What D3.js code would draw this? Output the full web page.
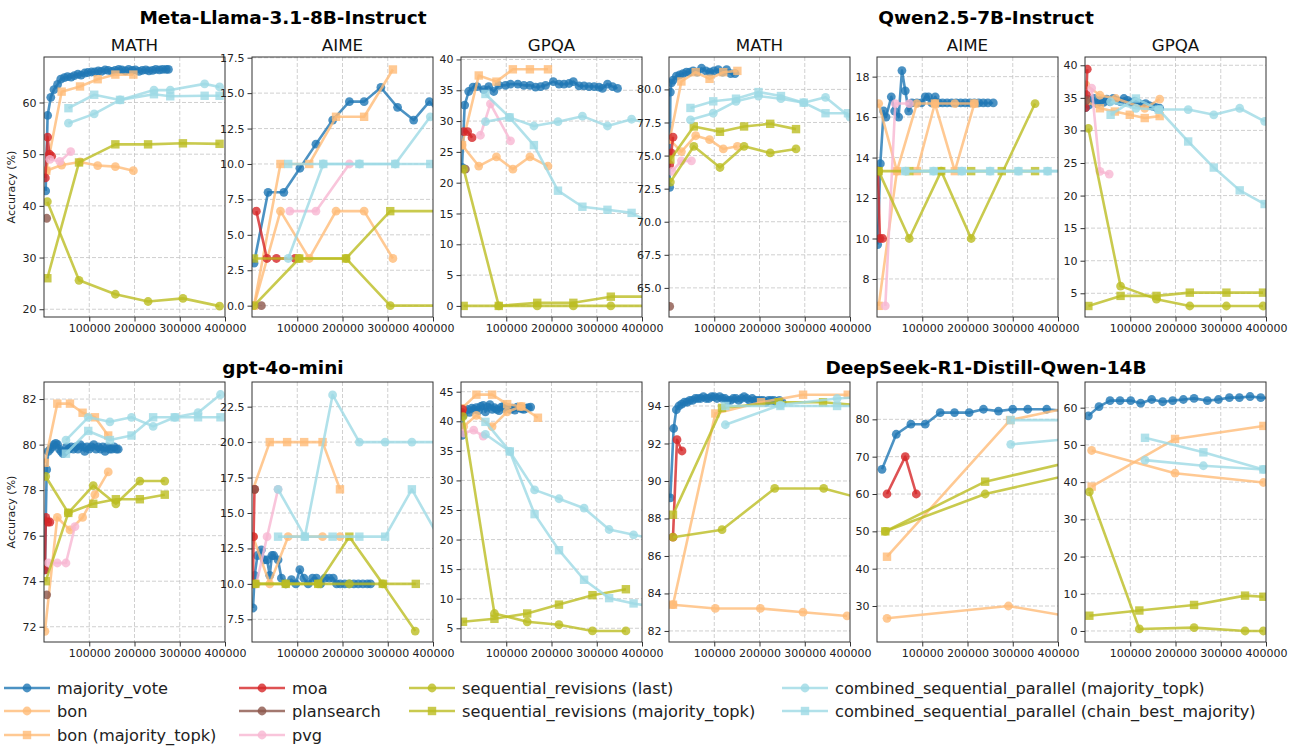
<!DOCTYPE html>
<html>
<head>
<meta charset="utf-8">
<script src="https://cdn.jsdelivr.net/npm/d3@7"></script>
<style>
  body { margin: 0; background: #fff; }
  text { font-family: "DejaVu Sans", sans-serif; }
</style>
</head>
<body>
<svg id="chart" width="1297" height="750"></svg>
<script>
// methods, in drawing order
const methodNames = ["majority_vote", "bon", "bon (majority_topk)", "moa", "plansearch", "pvg",
  "sequential_revisions (last)", "sequential_revisions (majority_topk)",
  "combined_sequential_parallel (majority_topk)", "combined_sequential_parallel (chain_best_majority)"]
const methodKeys = ["mv", "bon", "bonTop", "moa", "plan", "pvg", "seqLast", "seqTop", "combTop", "combChain"]
const methodColors = ["#1f77b4", "#ffbb78", "#ffbb78", "#d62728", "#8c564b", "#f7b6d2", "#bcbd22", "#bcbd22", "#9edae5", "#9edae5"]
const methodShapes = ["circle", "circle", "square", "circle", "circle", "circle", "circle", "square", "circle", "square"]

const xTicks = [100000, 200000, 300000, 400000]

// ---- data: [tokens, accuracy %] ----
const llamaMath = {
  mv: [[3700,42.9],[8000,57.5],[15000,61.0],[22000,62.5],[30000,63.5],[37000,64.5],[45000,64.8],[52000,65.0],[60000,64.9],[67000,65.2],[75000,65.5],[82000,65.3],[90000,65.7],[97000,65.8],[105000,65.9],[112000,65.9],[120000,66.1],[127000,66.0],[135000,66.3],[142000,66.2],[150000,66.0],[157000,66.2],[165000,66.4],[172000,66.3],[180000,66.1],[187000,66.4],[195000,66.2],[202000,66.3],[210000,66.0],[217000,66.2],[225000,66.3],[232000,66.1],[240000,66.2],[247000,66.4],[255000,66.3],[262000,66.4],[270000,66.4],[275000,66.4]],
  bon: [[5000,46.8],[39000,47.9],[79600,48.5],[118600,47.8],[157700,47.6],[197500,46.8]],
  bonTop: [[5000,46.8],[39000,62.1],[79600,63.1],[118600,64.5],[157700,65.4],[197500,65.4]],
  moa: [[3000,45.4],[8000,53.3],[12000,50.0],[17000,49.6]],
  plan: [[5900,37.6]],
  pvg: [[13000,49.0],[35000,48.6],[59000,50.5]],
  seqLast: [[7400,40.8],[77400,25.6],[157700,22.9],[230000,21.5],[307000,22.1],[388000,20.6]],
  seqTop: [[7400,26.0],[77400,48.4],[157700,51.9],[230000,51.9],[307000,52.1],[388000,52.0]],
  combTop: [[54000,56.0],[111000,57.8],[168000,60.5],[243000,62.4],[279000,62.4],[355000,63.6],[388000,63.0]],
  combChain: [[54000,58.9],[111000,61.5],[168000,60.5],[243000,61.6],[279000,61.2],[355000,61.3],[388000,61.3]]
}
const llamaAime = {
  mv: [[4400,3.0],[35500,8.0],[70300,8.0],[105800,9.7],[141300,11.4],[178300,13.1],[215200,14.4],[247800,14.4],[284800,15.4],[321700,14.0],[357200,13.1],[392000,14.4],[428000,13.1]],
  bon: [[4400,0],[62900,6.67],[126500,3.33],[185700,6.67],[247800,6.67],[311400,3.33]],
  bonTop: [[4400,0],[62900,10.0],[126500,10.0],[185700,13.33],[247800,13.33],[311400,16.67]],
  moa: [[9600,6.67],[33000,3.33],[54000,3.33],[95000,3.33]],
  plan: [[20700,0]],
  pvg: [[83600,6.67],[141300,6.67],[215200,10.0]],
  seqLast: [[4400,0],[104300,3.33],[207800,3.33],[305500,0],[420000,0]],
  seqTop: [[4400,3.33],[104300,3.33],[207800,3.33],[305500,6.67],[420000,6.67]],
  combTop: [[80000,3.33],[157500,10.0],[237400,10.0],[316600,10.0],[394000,13.33]],
  combChain: [[80000,10.0],[157500,10.0],[237400,10.0],[316600,10.0],[394000,10.0]]
}
const llamaGpqa = {
  mv: [[2200,22.5],[8100,32.6],[17000,34.8],[26600,35.5],[35500,35.6],[50300,35.1],[61300,35.6],[72400,34.8],[83500,35.8],[98300,35.8],[109400,36.0],[125600,36.0],[139000,35.8],[152300,35.8],[164800,35.5],[175900,35.6],[187000,35.8],[204000,36.4],[216600,36.0],[227600,36.0],[238700,36.1],[248300,36.4],[260900,35.7],[272000,35.7],[283100,35.6],[294200,35.6],[305200,35.5],[312600,35.3],[323700,36.0],[334800,35.6],[345900,35.3]],
  bon: [[2200,26.1],[39200,22.7],[78300,24.2],[114600,22.2],[152300,24.2],[192200,22.7]],
  bonTop: [[2200,26.1],[39200,37.4],[78300,36.4],[114600,38.4],[152300,38.4],[192200,38.4]],
  moa: [[5900,28.3],[14800,28.3],[24400,27.3]],
  plan: [[9600,22.2]],
  pvg: [[42900,27.7],[65000,32.8],[109400,26.8]],
  seqLast: [[5900,22.2],[83500,0],[168500,0],[248300,0],[331100,0],[430000,0]],
  seqTop: [[5900,0],[83500,0],[168500,0.5],[248300,0.5],[331100,1.5],[430000,1.5]],
  combTop: [[54000,29.9],[107200,30.6],[161100,29.2],[214300,29.9],[268300,30.8],[323700,29.2],[377000,30.3],[430000,29.4]],
  combChain: [[54000,34.4],[107200,30.6],[161100,26.1],[214300,18.7],[268300,16.1],[323700,15.6],[377000,15.1],[430000,13.0]]
}
const qwenMath = {
  mv: [[1500,72.6],[3000,79.8],[5200,80.5],[8900,80.7],[16300,81.0],[23700,81.1],[31100,81.2],[38500,81.3],[45900,81.3],[53300,81.4],[62200,81.3],[71900,81.6],[81500,81.4],[90400,81.3],[99300,81.4],[108900,81.5],[118500,81.3],[127400,81.5],[136300,81.2],[145900,81.2]],
  bon: [[1500,76.2],[27400,75.3],[59000,76.5],[89600,76.2],[120000,75.5],[151100,75.7]],
  bonTop: [[1500,76.2],[27400,80.6],[59000,81.3],[89600,80.8],[120000,81.3],[151100,81.4]],
  moa: [[1500,74.3],[5000,75.2],[9000,76.4]],
  plan: [[1500,63.6]],
  pvg: [[6700,73.8],[27400,74.6],[49600,74.6]],
  seqLast: [[3000,73.0],[54800,75.7],[112600,74.1],[165900,75.7],[223700,75.2],[280700,75.5]],
  seqTop: [[3000,74.7],[54800,77.2],[112600,76.8],[165900,77.2],[223700,77.4],[280700,77.0]],
  combTop: [[47400,77.7],[97800,78.2],[148100,79.1],[197800,79.5],[247400,79.3],[297800,79.0],[345900,79.4],[400000,77.9]],
  combChain: [[47400,78.6],[97800,79.1],[148100,79.3],[197800,79.8],[247400,79.5],[297800,79.0],[345900,78.2],[395500,78.2]]
}
const qwenAime = {
  mv: [[1500,9.7],[7400,13.7],[14700,16.3],[19900,16.0],[31600,17.0],[39000,16.3],[47800,16.0],[55100,18.3],[62500,17.3],[69900,16.3],[77200,16.7],[88200,16.7],[98000,16.7],[106600,17.0],[113900,17.0],[121000,16.7],[128700,17.0],[136000,16.7],[145000,16.7],[155000,16.7],[165000,16.7],[175000,16.7],[185000,16.7],[195000,16.7],[205000,16.7],[215000,16.7],[225000,16.7],[235000,16.7],[245000,16.7],[257000,16.7]],
  bon: [[3700,16.67],[44000,13.33],[88000,16.67],[128000,16.67],[172000,16.67],[215000,16.67]],
  bonTop: [[3700,6.67],[44000,13.33],[88000,13.33],[128000,16.67],[172000,13.33],[215000,16.67]],
  moa: [[2000,13.33],[6500,10.0],[12500,10.0]],
  plan: [[2000,13.33]],
  pvg: [[18400,6.67],[40400,16.67],[71300,16.67]],
  seqLast: [[3700,13.33],[71300,10.0],[141900,13.33],[208100,10.0],[349300,16.67]],
  seqTop: [[3700,13.33],[71300,13.33],[141900,13.33],[208100,13.33],[275700,13.33],[349300,13.33]],
  combTop: [[62500,13.33],[125000,13.33],[187500,13.33],[250000,13.33],[312500,13.33],[377000,13.33],[440000,13.33]],
  combChain: [[62500,13.33],[125000,13.33],[187500,13.33],[250000,13.33],[312500,13.33],[377000,13.33],[440000,13.33]]
}
const qwenGpqa = {
  mv: [[1500,33.5],[5000,34.8],[9000,33.9],[14000,34.4],[20000,34.9],[27000,34.1],[34000,34.6],[41000,34.3],[48000,34.8],[55000,34.4],[62000,34.9],[70000,34.6],[78000,34.4],[86000,34.9],[94000,34.6],[102000,34.3],[110000,34.5],[118000,34.2],[126000,34.0],[134000,34.1],[142000,33.8],[150000,33.7],[158000,33.5],[165000,33.4]],
  bon: [[2000,37.0],[33000,35.4],[68000,34.9],[132000,33.4],[165000,34.8]],
  bonTop: [[2000,34.5],[33000,33.4],[66000,32.9],[99000,32.4],[132000,31.9],[165000,32.2]],
  moa: [[1000,33.5],[3000,35.5],[5000,39.4]],
  plan: [[2500,34.6]],
  pvg: [[14700,36.5],[33000,23.7],[53500,23.3]],
  seqLast: [[7400,30.3],[78600,6.1],[158000,4.1],[231600,3.05],[312500,3.05],[393400,3.05]],
  seqTop: [[7400,3.05],[78600,4.6],[158000,4.6],[231600,5.1],[312500,5.1],[393400,5.1]],
  combTop: [[56600,34.4],[112500,33.4],[163000,33.2],[228000,33.2],[284600,32.4],[341900,33.4],[397000,31.4]],
  combChain: [[56600,32.4],[112500,34.9],[163000,33.2],[228000,28.3],[284600,24.3],[341900,20.8],[397000,18.7]]
}
const gptMath = {
  mv: [[2000,74.5],[5900,78.9],[9600,79.7],[14000,79.8],[18000,79.9],[22000,80.0],[26000,80.05],[30000,80.0],[34000,79.8],[38000,79.7],[42000,79.6],[46000,79.7],[50000,79.9],[55000,79.8],[60000,79.9],[65000,79.8],[70000,79.9],[75000,79.8],[80000,80.0],[85000,79.9],[90000,79.7],[95000,79.9],[100000,79.8],[105000,79.9],[110000,80.0],[115000,79.8],[120000,79.9],[125000,79.8],[130000,79.9],[135000,79.7],[140000,79.9],[145000,79.8],[150000,79.8],[155000,79.9],[160000,79.8],[164000,79.8]],
  bon: [[2000,71.8],[29400,76.8],[57400,76.25],[85300,76.8],[112500,77.8],[141900,78.8]],
  bonTop: [[2000,79.2],[29400,81.8],[57400,81.8],[85300,81.4],[112500,81.2],[141900,80.4]],
  moa: [[2000,74.5],[4000,76.8],[8500,76.6],[13000,76.6]],
  plan: [[5900,73.4]],
  pvg: [[9600,74.8],[29400,74.8],[48500,74.8],[68400,76.4]],
  seqLast: [[3700,78.6],[53700,77.0],[108800,78.2],[158800,77.4],[211800,78.4],[266900,78.4]],
  seqTop: [[3700,74.0],[53700,77.0],[108800,77.4],[158800,77.6],[211800,77.6],[266900,77.8]],
  combTop: [[48500,80.2],[97800,81.2],[145600,81.0],[193400,81.2],[241200,80.8],[289000,81.2],[340400,81.4],[390000,82.2]],
  combChain: [[48500,79.6],[97800,80.6],[145600,80.2],[193400,80.4],[241200,81.2],[289000,81.2],[340400,81.2],[390000,81.2]]
}
const gptAime = {
  mv: [[2200,8.3],[5900,10.6],[12000,12.0],[20700,12.4],[27000,11.7],[33300,11.7],[39200,10.6],[44000,12.0],[48000,12.0],[57600,11.7],[65000,10.4],[74600,10.0],[87200,10.3],[96800,10.0],[105700,11.0],[114600,10.4],[124200,10.0],[133800,10.4],[142600,10.4],[151500,10.0],[161100,10.4],[170700,10.4],[179600,10.4],[187000,10.0],[195000,10.0],[205000,10.0],[215000,10.0],[225000,10.0],[235000,10.0],[245000,10.0],[255000,10.0],[262000,10.0]],
  bon: [[2200,13.33],[39200,10.0],[79800,13.33],[155900,13.33],[194400,13.33]],
  bonTop: [[2200,16.67],[39200,20.0],[77600,20.0],[115300,20.0],[155900,20.0],[194400,16.67]],
  moa: [[2000,10.0],[3500,13.33],[5500,16.67]],
  plan: [[6000,16.67]],
  pvg: [[9600,10.0],[33300,13.33],[57600,16.67]],
  seqLast: [[7400,10.0],[74600,10.0],[146300,10.0],[215100,10.0],[289000,10.0],[360700,6.67]],
  seqTop: [[7400,10.0],[74600,10.0],[146300,10.0],[215100,13.33],[289000,10.0],[362000,10.0]],
  combTop: [[57600,16.67],[116800,13.33],[178100,23.33],[237200,20.0],[294200,20.0],[353300,20.0],[430000,20.0]],
  combChain: [[57600,13.33],[116800,13.33],[178100,13.33],[237200,13.33],[294200,13.33],[353300,16.67],[412000,13.33]]
}
const gptGpqa = {
  mv: [[2200,37.6],[5000,41.0],[9000,41.8],[14000,42.0],[19000,41.5],[24000,42.2],[29000,42.0],[34000,42.3],[39000,41.8],[44000,42.5],[49000,42.7],[54000,41.6],[59000,42.4],[64000,42.8],[69000,42.0],[74000,42.3],[79000,42.0],[84000,41.8],[89000,42.4],[94000,42.5],[99000,42.1],[104000,42.3],[109000,42.0],[114000,42.2],[119000,41.9],[124000,42.4],[129000,42.3],[134000,42.1],[139000,42.0],[144000,42.2],[149000,42.3],[154000,42.4]],
  bon: [[5900,39.1],[34000,41.0],[68700,39.1],[102000,41.6],[133000,42.5]],
  bonTop: [[2200,42.2],[34000,44.5],[68700,44.5],[102000,42.9],[133000,42.5],[170000,40.6]],
  moa: [[1500,41.5],[3500,42.0]],
  pvg: [[5900,38.0],[28100,38.5],[48800,37.5]],
  seqLast: [[4400,40.8],[73900,7.5],[146300,6.1],[216500,5.6],[290500,4.55],[364400,4.55]],
  seqTop: [[4400,6.1],[73900,6.6],[146300,7.5],[216500,9.0],[290500,10.6],[364400,11.6]],
  combTop: [[54000,37.8],[107900,34.9],[162600,28.4],[216600,26.9],[272000,25.3],[327400,21.7],[381400,20.8],[420000,20.2]],
  combChain: [[54000,39.9],[107900,34.9],[162600,24.3],[216600,18.2],[272000,13.2],[327400,10.1],[381400,9.2],[420000,8.7]]
}
const dsMath = {
  mv: [[2900,89.1],[10300,92.8],[16200,93.8],[22000,94.0],[28000,94.1],[34000,94.2],[40000,94.2],[46000,94.3],[52000,94.3],[58000,94.4],[64000,94.4],[70000,94.4],[76000,94.5],[82000,94.4],[88000,94.4],[94000,94.5],[100000,94.5],[106000,94.4],[112000,94.5],[118000,94.4],[124000,94.4],[130000,94.3],[136000,94.3],[142000,94.4],[148000,94.4],[154000,94.3],[160000,94.4],[166000,94.5],[172000,94.4],[178000,94.3],[184000,94.4],[190000,94.3],[196000,94.3],[202000,94.3],[208000,94.3],[214000,94.2],[220000,94.3],[226000,94.3],[232000,94.3],[238000,94.2],[244000,94.3],[250000,94.2]],
  bon: [[8800,83.4],[102400,83.2],[201900,83.2],[296300,83.0],[393500,82.8]],
  bonTop: [[8800,83.4],[102400,93.6],[203400,94.2],[296300,94.6],[395000,94.6]],
  moa: [[8800,87.0],[17700,92.2],[28700,91.6]],
  seqLast: [[8800,87.0],[117200,87.4],[233600,89.6],[341900,89.6],[450000,88.9]],
  seqTop: [[8800,88.2],[117200,93.9],[242400,94.2],[340400,94.2],[440000,94.0]],
  combTop: [[124500,93.0],[246100,94.05],[371400,94.4],[450000,94.5]],
  combChain: [[124500,94.0],[246100,94.0],[371400,94.0],[450000,94.0]]
}
const dsAime = {
  mv: [[11000,66.6],[42600,76.0],[75000,78.7],[106600,78.7],[139700,81.8],[171300,81.8],[203700,81.8],[235300,82.7],[268400,82.2],[300000,82.7],[333100,82.7],[375000,82.7],[420000,82.2]],
  bon: [[22100,26.7],[290400,30.0],[450000,26.7]],
  bonTop: [[22100,43.2],[294100,79.8],[420000,83.0]],
  moa: [[22100,60.0],[62500,70.0],[86800,60.0]],
  seqLast: [[18400,50.0],[239000,60.0],[450000,65.8]],
  seqTop: [[18400,50.0],[239000,63.3],[450000,69.2]],
  combTop: [[295600,73.3],[450000,75.0]],
  combChain: [[295600,79.8],[450000,79.8]]
}
const dsGpqa = {
  mv: [[7400,57.8],[31000,60.3],[55300,61.9],[77400,61.9],[101000,61.9],[123100,61.2],[147400,62.2],[171700,61.6],[193800,61.9],[217400,62.2],[241000,62.5],[270400,61.9],[294800,62.2],[319100,62.7],[341200,62.7],[364800,63.0],[388400,62.7],[420000,62.5]],
  bon: [[14700,48.5],[199000,42.4],[394300,39.9]],
  bonTop: [[14700,38.8],[199000,51.6],[394300,55.1]],
  seqLast: [[9600,37.4],[120100,0.55],[241000,0.9],[353700,0],[394300,0]],
  seqTop: [[9600,4.1],[120100,5.5],[241000,7.0],[353700,9.5],[394300,9.2]],
  combTop: [[132600,45.9],[261600,44.4],[394300,43.4]],
  combChain: [[132600,51.9],[261600,48.0],[394300,43.4]]
}

// y ticks per panel
const yTicksLlamaMath = [20, 30, 40, 50, 60]
const yTicksLlamaAime = [0, 2.5, 5, 7.5, 10, 12.5, 15, 17.5]
const yTicksLlamaGpqa = [0, 5, 10, 15, 20, 25, 30, 35, 40]
const yTicksQwenMath = [65, 67.5, 70, 72.5, 75, 77.5, 80]
const yTicksQwenAime = [8, 10, 12, 14, 16, 18]
const yTicksQwenGpqa = [5, 10, 15, 20, 25, 30, 35, 40]
const yTicksGptMath = [72, 74, 76, 78, 80, 82]
const yTicksGptAime = [7.5, 10, 12.5, 15, 17.5, 20, 22.5]
const yTicksGptGpqa = [5, 10, 15, 20, 25, 30, 35, 40, 45]
const yTicksDsMath = [82, 84, 86, 88, 90, 92, 94]
const yTicksDsAime = [30, 40, 50, 60, 70, 80]
const yTicksDsGpqa = [0, 10, 20, 30, 40, 50, 60]

const panels = [
  { data: llamaMath, title: "MATH", dom: [18.5, 68.8], ticks: yTicksLlamaMath, fmt: "d" },
  { data: llamaAime, title: "AIME", dom: [-0.8, 17.55], ticks: yTicksLlamaAime, fmt: ".1f" },
  { data: llamaGpqa, title: "GPQA", dom: [-1.8, 40.4], ticks: yTicksLlamaGpqa, fmt: "d" },
  { data: qwenMath, title: "MATH", dom: [62.8, 82.45], ticks: yTicksQwenMath, fmt: ".1f" },
  { data: qwenAime, title: "AIME", dom: [6.12, 18.97], ticks: yTicksQwenAime, fmt: "d" },
  { data: qwenGpqa, title: "GPQA", dom: [1.36, 41.27], ticks: yTicksQwenGpqa, fmt: "d" },
  { data: gptMath, title: "", dom: [71.33, 82.75], ticks: yTicksGptMath, fmt: "d" },
  { data: gptAime, title: "", dom: [5.9, 24.24], ticks: yTicksGptAime, fmt: ".1f" },
  { data: gptGpqa, title: "", dom: [2.68, 46.64], ticks: yTicksGptGpqa, fmt: "d" },
  { data: dsMath, title: "", dom: [81.41, 95.28], ticks: yTicksDsMath, fmt: "d" },
  { data: dsAime, title: "", dom: [20.36, 90.0], ticks: yTicksDsAime, fmt: "d" },
  { data: dsGpqa, title: "", dom: [-2.96, 66.9], ticks: yTicksDsGpqa, fmt: "d" }
]

const groupTitles = [
  { text: "Meta-Llama-3.1-8B-Instruct", x: 283, y: 24 },
  { text: "Qwen2.5-7B-Instruct", x: 986, y: 24 },
  { text: "gpt-4o-mini", x: 283, y: 374 },
  { text: "DeepSeek-R1-Distill-Qwen-14B", x: 986, y: 374 }
]

// layout
const lefts = [44, 252, 461, 669, 877, 1085]
const tops = [57, 382]
const pw = 181, ph = 260

const svg = d3.select("#chart")
const defs = svg.append("defs")

function drawMarker(sel, shape, color) {
  if (shape === "square") {
    sel.append("rect").attr("x", -4.2).attr("y", -4.2).attr("width", 8.4).attr("height", 8.4)
      .attr("fill", color).attr("fill-opacity", 0.8)
  } else {
    sel.append("circle").attr("r", 4.4).attr("fill", color).attr("fill-opacity", 0.8)
  }
}

panels.forEach((p, i) => {
  const col = i % 6, row = Math.floor(i / 6)
  const g = svg.append("g").attr("transform", `translate(${lefts[col]},${tops[row]})`)
  const x = d3.scaleLinear().domain([0, 400000]).range([0, pw])
  const y = d3.scaleLinear().domain(p.dom).range([ph, 0])

  // grid
  g.append("g").selectAll("line").data(xTicks.slice(0, -1)).join("line")
    .attr("x1", d => x(d)).attr("x2", d => x(d)).attr("y1", 0).attr("y2", ph)
    .attr("stroke", "#c4c4c4").attr("stroke-width", 0.8).attr("stroke-dasharray", "4,2")
  g.append("g").selectAll("line").data(p.ticks).join("line")
    .attr("x1", 0).attr("x2", pw).attr("y1", d => y(d)).attr("y2", d => y(d))
    .attr("stroke", "#c4c4c4").attr("stroke-width", 0.8).attr("stroke-dasharray", "4,2")

  // clip
  defs.append("clipPath").attr("id", "clip" + i)
    .append("rect").attr("x", 0).attr("y", 0).attr("width", pw).attr("height", ph)
  const plot = g.append("g").attr("clip-path", `url(#clip${i})`)

  const line = d3.line().x(d => x(d[0])).y(d => y(d[1]))

  methodKeys.forEach((k, mi) => {
    const pts = p.data[k]
    if (!pts) return
    const color = methodColors[mi]
    const sg = plot.append("g")
    sg.append("path").attr("d", line(pts)).attr("fill", "none")
      .attr("stroke", color).attr("stroke-opacity", 0.8).attr("stroke-width", 2.6)
      .attr("stroke-linejoin", "round")
    sg.selectAll("g.m").data(pts).join("g").attr("class", "m")
      .attr("transform", d => `translate(${x(d[0])},${y(d[1])})`)
      .each(function () { drawMarker(d3.select(this), methodShapes[mi], color) })
  })

  // frame
  g.append("rect").attr("width", pw).attr("height", ph)
    .attr("fill", "none").attr("stroke", "#333").attr("stroke-width", 1)

  // axes
  const xa = g.append("g").attr("transform", `translate(0,${ph})`)
    .call(d3.axisBottom(x).tickValues(xTicks).tickFormat(d3.format("d")).tickSize(4.5).tickSizeOuter(0))
  const ya = g.append("g")
    .call(d3.axisLeft(y).tickValues(p.ticks).tickFormat(d3.format(p.fmt)).tickSize(4.5).tickSizeOuter(0))
  ;[xa, ya].forEach(a => {
    a.select(".domain").remove()
    a.selectAll("line").attr("stroke", "#333")
    a.selectAll("text").attr("font-size", 11).attr("fill", "#222")
      .style("font-family", '"DejaVu Sans", sans-serif')
  })

  if (p.title) {
    g.append("text").attr("x", pw / 2).attr("y", -6).attr("text-anchor", "middle")
      .attr("font-size", 16.7).attr("fill", "#111").text(p.title)
  }
  if (col === 0) {
    g.append("text").attr("transform", `translate(-29,${ph / 2}) rotate(-90)`)
      .attr("text-anchor", "middle").attr("font-size", 11).attr("fill", "#222").text("Accuracy (%)")
  }
})

groupTitles.forEach(t => {
  svg.append("text").attr("x", t.x).attr("y", t.y).attr("text-anchor", "middle")
    .attr("font-size", 18.5).attr("font-weight", "bold").attr("fill", "#000").text(t.text)
})

// legend
const legendCols = [
  { x: 57, items: [0, 1, 2] },
  { x: 292, items: [3, 4, 5] },
  { x: 462, items: [6, 7] },
  { x: 835, items: [8, 9] }
]
const legendRows = [688, 711, 735]
const lg = svg.append("g")
legendCols.forEach(c => {
  c.items.forEach((mi, r) => {
    const yy = legendRows[r]
    const color = methodColors[mi]
    lg.append("line").attr("x1", c.x - 53).attr("x2", c.x - 7).attr("y1", yy).attr("y2", yy)
      .attr("stroke", color).attr("stroke-opacity", 0.8).attr("stroke-width", 2.6)
    const mg = lg.append("g").attr("transform", `translate(${c.x - 30},${yy})`)
    drawMarker(mg, methodShapes[mi], color)
    lg.append("text").attr("x", c.x).attr("y", yy + 5.5).attr("font-size", 16.2).attr("fill", "#222")
      .text(methodNames[mi])
  })
})
</script>
</body>
</html>
